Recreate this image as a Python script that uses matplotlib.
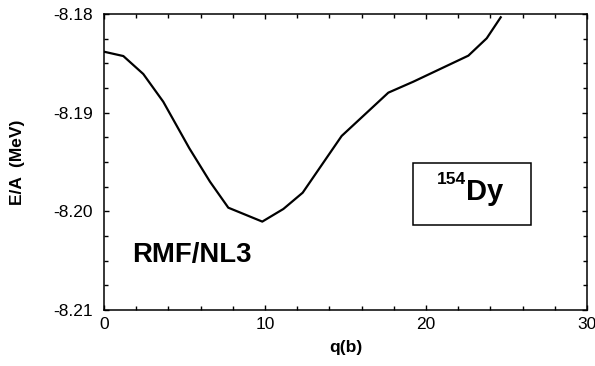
import matplotlib
matplotlib.use("Agg")
import matplotlib.pyplot as plt
from matplotlib.patches import Rectangle
from matplotlib.ticker import MultipleLocator, FormatStrFormatter

# deformation q (b) and binding energy per nucleon E/A (MeV)
Q = [0.0, 1.20, 2.44, 3.68, 5.30, 6.58, 7.72, 9.83, 11.14, 12.34, 14.76, 17.66,
     19.21, 22.63, 23.77, 24.64]
EA = [-8.18382, -8.18426, -8.18608, -8.18889, -8.19361, -8.19699, -8.19963,
      -8.20104, -8.19976, -8.19811, -8.19236, -8.18797, -8.18686, -8.18422,
      -8.18246, -8.18033]

XLIM = (0, 30)
YLIM = (-8.21, -8.18)


def main():
    plt.rcParams.update({
        "font.family": ["Liberation Sans", "DejaVu Sans"],
        "axes.linewidth": 1.1,
    })

    fig = plt.figure(figsize=(5.95, 3.66), dpi=100)
    ax = fig.add_axes([0.1748, 0.153, 0.8118, 0.8087])

    ax.plot(Q, EA, color="black", linewidth=1.6)

    ax.set_xlim(*XLIM)
    ax.set_ylim(*YLIM)
    ax.xaxis.set_major_locator(MultipleLocator(10))
    ax.xaxis.set_minor_locator(MultipleLocator(2))
    ax.yaxis.set_major_locator(MultipleLocator(0.01))
    ax.yaxis.set_minor_locator(MultipleLocator(0.0025))
    ax.yaxis.set_major_formatter(FormatStrFormatter("%.2f"))
    ax.tick_params(which="both", direction="in", top=True, right=True,
                   width=1.0, labelsize=12.5)
    ax.tick_params(which="major", length=3.8)
    ax.tick_params(which="minor", length=3.0)
    ax.tick_params(axis="y", pad=8)
    ax.tick_params(axis="x", pad=5)

    ax.set_xlabel("q(b)", fontsize=12.5, fontweight="bold", labelpad=6)
    ax.set_ylabel("E/A  (MeV)", fontsize=12.5, fontweight="bold", labelpad=20)

    ax.text(1.75, -8.2044, "RMF/NL3", fontsize=19.8, fontweight="bold",
            va="center", ha="left")

    ax.add_patch(Rectangle((19.2, -8.20138), 7.32, 0.00628, fill=False,
                           edgecolor="black", linewidth=1.1))
    ax.text(22.5, -8.1988, "Dy", fontsize=21, fontweight="bold",
            ha="left", va="baseline")
    ax.text(22.5, -8.1972, "154", fontsize=12.5, fontweight="bold",
            ha="right", va="baseline")

    fig.savefig("out.png", dpi=100)


if __name__ == "__main__":
    main()
